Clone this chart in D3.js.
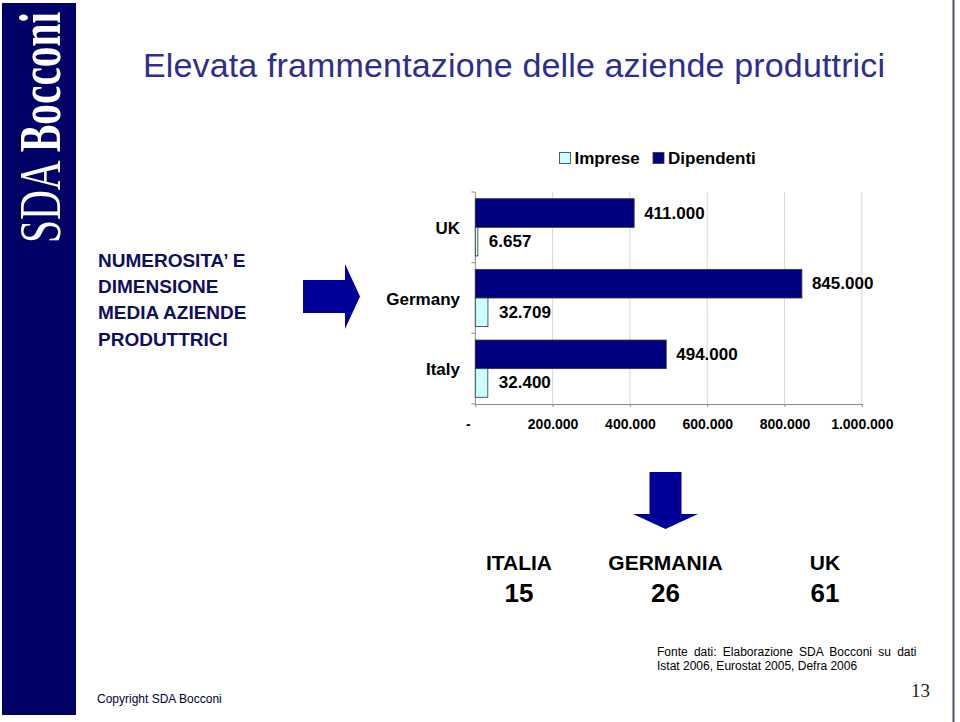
<!DOCTYPE html>
<html><head><meta charset="utf-8">
<script src="https://cdnjs.cloudflare.com/ajax/libs/d3/7.8.5/d3.min.js"></script>
<style>
html,body{margin:0;padding:0;background:#fff;}
svg{display:block;font-family:"Liberation Sans",Arial,sans-serif;}
</style></head>
<body>
<svg id="c" width="960" height="722"></svg>
<script>
// ---- data ----
const categories = ["UK", "Germany", "Italy"];
const seriesNames = ["Dipendenti", "Imprese"];
const dipendenti = [411000, 845000, 494000];
const imprese = [6657, 32709, 32400];
const xTicks = [0, 200000, 400000, 600000, 800000, 1000000];
const legendNames = ["Imprese", "Dipendenti"];
const summaryCountries = ["ITALIA", "GERMANIA", "UK"];
const summaryValues = [15, 26, 61];
const leftTitleLines = ["NUMEROSITA’ E", "DIMENSIONE", "MEDIA AZIENDE", "PRODUTTRICI"];

const colors = {Dipendenti: "#000080", Imprese: "#ccffff"};
const itLocale = d3.formatLocale({decimal: ",", thousands: ".", grouping: [3], currency: ["", "€"]});
const fmt = itLocale.format(",d");

const svg = d3.select("#c");

// ---- slide decoration ----
svg.append("rect").attr("x", 2).attr("y", 3).attr("width", 74).attr("height", 712).attr("fill", "#000066");
const logo = svg.append("text")
  .attr("font-family", "'Liberation Serif','Times New Roman',serif")
  .attr("font-size", 60).attr("fill", "#fff");
logo.append("tspan").text("SDA ");
logo.append("tspan").attr("font-weight", "bold").text("Bocconi");
const lw = logo.node().getComputedTextLength();
logo.attr("transform", `translate(60,243) rotate(-90) scale(${231 / lw},1)`);

svg.append("line").attr("x1", 953.5).attr("x2", 953.5).attr("y1", 0).attr("y2", 722)
  .attr("stroke", "#4a4a78").attr("stroke-width", 2);

svg.append("text").attr("x", 143).attr("y", 77).attr("font-size", 34).attr("fill", "#2e2e8f")
  .attr("textLength", 742).attr("lengthAdjust", "spacing")
  .text("Elevata frammentazione delle aziende produttrici");

svg.append("g").selectAll("text").data(leftTitleLines).join("text")
  .attr("x", 98).attr("y", (d, i) => 267 + i * 26.2)
  .attr("font-size", 19).attr("font-weight", "bold").attr("fill", "#0f0f5f")
  .text(d => d);

// right arrow
svg.append("path").attr("fill", "#000099")
  .attr("d", "M303,280 L345,280 L345,264 L360,296.5 L345,329 L345,313 L303,313 Z");
// down arrow
svg.append("path").attr("fill", "#000099")
  .attr("d", "M649.5,472 L681.5,472 L681.5,514 L698,514 L665.5,529 L633,514 L649.5,514 Z");

// ---- chart ----
const x = d3.scaleLinear().domain([0, 1000000]).range([475.3, 861.8]);
const y = d3.scaleBand().domain(categories).range([192, 404]).paddingInner(0.19).paddingOuter(0.095);
const ys = d3.scaleBand().domain(seriesNames).range([0, y.bandwidth()]);

const chart = svg.append("g");
// gridlines
chart.append("g").selectAll("line").data(xTicks.slice(1)).join("line")
  .attr("x1", d => x(d)).attr("x2", d => x(d)).attr("y1", 192).attr("y2", 404)
  .attr("stroke", "#d9d9d9").attr("stroke-width", 1);

// x axis
const xAxis = chart.append("g").attr("transform", "translate(0,404)")
  .call(d3.axisBottom(x).tickValues(xTicks).tickSize(3).tickSizeOuter(0).tickPadding(12)
    .tickFormat(d => d === 0 ? "-" : fmt(d)));
xAxis.select(".domain").attr("stroke", "#8c8c8c");
xAxis.selectAll(".tick line").attr("stroke", "#8c8c8c");
xAxis.selectAll(".tick text").attr("font-size", 14).attr("font-weight", "bold").attr("fill", "#000")
  .attr("font-family", "'Liberation Sans',Arial,sans-serif")
  .attr("dx", d => d === 0 ? -7.5 : 0);

// y axis line + ticks at band boundaries
chart.append("line").attr("x1", x(0)).attr("x2", x(0)).attr("y1", 192).attr("y2", 404)
  .attr("stroke", "#8c8c8c");
const bounds = d3.range(categories.length + 1).map(i => 192 + i * y.step());
chart.append("g").selectAll("line").data(bounds).join("line")
  .attr("x1", x(0) - 4).attr("x2", x(0)).attr("y1", d => d).attr("y2", d => d)
  .attr("stroke", "#8c8c8c");

chart.append("g").selectAll("text").data(categories).join("text")
  .attr("x", 460).attr("y", d => y(d) + y.bandwidth() / 2 + 1)
  .attr("text-anchor", "end").attr("dominant-baseline", "central")
  .attr("font-size", 17).attr("font-weight", "bold").attr("fill", "#000")
  .text(d => d);

const rows = [];
categories.forEach((c, i) => {
  rows.push({cat: c, series: "Dipendenti", value: dipendenti[i]});
  rows.push({cat: c, series: "Imprese", value: imprese[i]});
});

chart.append("g").selectAll("rect").data(rows).join("rect")
  .attr("x", x(0)).attr("y", d => y(d.cat) + ys(d.series))
  .attr("width", d => x(d.value) - x(0)).attr("height", ys.bandwidth())
  .attr("fill", d => colors[d.series]).attr("stroke", "#333").attr("stroke-width", 0.8);

chart.append("g").selectAll("text").data(rows).join("text")
  .attr("x", d => x(d.value) + (d.series === "Imprese" ? 11 : 10))
  .attr("y", d => y(d.cat) + ys(d.series) + ys.bandwidth() / 2)
  .attr("dominant-baseline", "central")
  .attr("font-size", 17).attr("font-weight", "bold").attr("fill", "#000")
  .text(d => fmt(d.value));

// legend
const lg = svg.append("g");
const lx = [559.5, 653];
legendNames.forEach((n, i) => {
  lg.append("rect").attr("x", lx[i]).attr("y", 152.5).attr("width", 11).attr("height", 11)
    .attr("fill", colors[n]).attr("stroke", "#333").attr("stroke-width", 0.8);
  lg.append("text").attr("x", lx[i] + 15).attr("y", 164)
    .attr("font-size", 17).attr("font-weight", "bold").attr("fill", "#000").text(n);
});

// summary
const sx = [519, 665.5, 825];
svg.append("g").selectAll("text").data(summaryCountries).join("text")
  .attr("x", (d, i) => sx[i]).attr("y", 570).attr("text-anchor", "middle")
  .attr("font-size", 21).attr("font-weight", "bold").attr("fill", "#000").text(d => d);
svg.append("g").selectAll("text").data(summaryValues).join("text")
  .attr("x", (d, i) => sx[i]).attr("y", 602).attr("text-anchor", "middle")
  .attr("font-size", 26).attr("font-weight", "bold").attr("fill", "#000").text(d => d);

// source
const src1 = svg.append("text").attr("x", 657).attr("y", 656).attr("font-size", 12).attr("fill", "#000")
  .text("Fonte dati: Elaborazione SDA Bocconi su dati");
const w1 = src1.node().getComputedTextLength();
src1.attr("word-spacing", (259.5 - w1) / 6);
svg.append("text").attr("x", 657).attr("y", 670).attr("font-size", 12).attr("fill", "#000")
  .text("Istat 2006, Eurostat 2005, Defra 2006");

svg.append("text").attr("x", 930).attr("y", 697).attr("text-anchor", "end")
  .attr("font-family", "'Liberation Serif','Times New Roman',serif").attr("font-size", 19).attr("fill", "#222")
  .text("13");

svg.append("text").attr("x", 97).attr("y", 703).attr("font-size", 12).attr("fill", "#000033")
  .text("Copyright SDA Bocconi");
</script>
</body></html>
